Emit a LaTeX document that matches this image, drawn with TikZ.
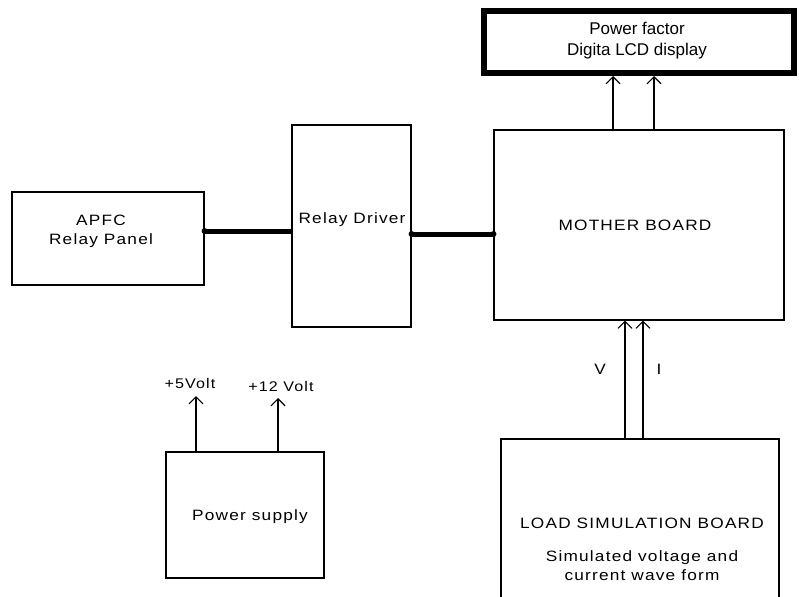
\documentclass[tikz,border=0pt]{standalone}
\usepackage{fontspec}
\newfontfamily\lbl{Liberation Sans}[FakeStretch=1.15,LetterSpace=8]
\newfontfamily\lcdf{Liberation Sans}
\usetikzlibrary{arrows.meta}
\begin{document}
\begin{tikzpicture}[x=1pt,y=-1pt,
  blk/.style={draw, line width=1.1pt, inner sep=0pt, minimum width=#1},
  txt/.style={font=\lbl\fontsize{15}{19}\selectfont, align=center, inner sep=0pt},
  arr/.style={line width=1.1pt, -{Straight Barb[length=7pt,width=14pt,line width=1.1pt]}},
  bus/.style={line width=5pt},
  dotc/.style={fill, circle, inner sep=0pt, minimum size=6pt}]
\useasboundingbox (0,0) rectangle (799,596);
\clip (0,0) rectangle (799,596);
% boxes
\node[blk=192pt, minimum height=93pt] (apfc) at (108,238.5) {};
\node[blk=119pt, minimum height=202pt] (drv) at (351.5,226) {};
\node[blk=290pt, minimum height=190pt] (mb) at (639,225) {};
\node[draw, line width=6pt, inner sep=0pt, minimum width=310pt, minimum height=62pt] (lcd) at (639,42) {};
\node[blk=278pt, minimum height=180pt] (load) at (640,529) {};
\node[blk=158pt, minimum height=126pt] (psu) at (245,515) {};
% texts
\node[txt] (tapfc) at (101,231.5) {APFC\\[0pt]Relay Panel};
\node[txt] (tdrv) at (352,220) {Relay Driver};
\node[txt] (tmb) at (635,225) {MOTHER BOARD};
\node[txt] (tpsu) at (250,517) {Power supply};
\node[txt] (tload) at (642,523) {LOAD SIMULATION BOARD};
\node[txt] (tload2) at (642,565.5) {Simulated voltage and\\current wave form};
\node[font=\lcdf\fontsize{17}{21}\selectfont, align=center, inner sep=0pt] (tlcd) at (637,41) {Power factor\\Digita LCD display};
% buses
\draw[bus] (apfc.east |- 0,231) coordinate (b1) -- (drv.west |- 0,231);
\node[dotc] (d1) at (b1) {};
\draw[bus] (drv.east |- 0,234) coordinate (b2) -- (mb.west |- 0,234) coordinate (b3);
\node[dotc] (d2) at (b2) {};
\node[dotc] (d3) at (b3) {};
% MB to LCD
\draw[arr] (mb.north -| 613,0) -- (lcd.south -| 613,0);
\draw[arr] (mb.north -| 654,0) -- (lcd.south -| 654,0);
% load to MB
\draw[arr] (load.north -| 625,0) -- (mb.south -| 625,0);
\draw[arr] (load.north -| 643,0) -- (mb.south -| 643,0);
\node[txt] (lv) at (600,369) {V};
\node[txt] (li) at (659,369) {I};
% power supply
\coordinate (p5) at (196,396);
\coordinate (p12) at (278,398);
\draw[arr] (psu.north -| p5) -- (p5);
\draw[arr] (psu.north -| p12) -- (p12);
\node[txt, font=\lbl\fontsize{14}{17}\selectfont] (l5) at (190,383) {+5Volt};
\node[txt, font=\lbl\fontsize{14}{17}\selectfont] (l12) at (281,386) {+12 Volt};
\end{tikzpicture}
\end{document}
